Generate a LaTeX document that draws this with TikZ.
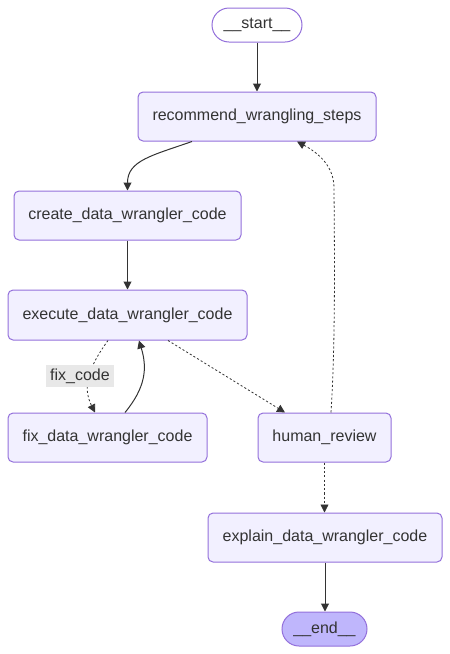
\documentclass[tikz,border=0pt]{standalone}
\usepackage{fontspec}
\setmainfont{Liberation Sans}
\usetikzlibrary{arrows.meta,calc}
\definecolor{nodefill}{HTML}{F2F0FF}
\definecolor{nodedraw}{HTML}{9370DB}
\definecolor{endfill}{HTML}{BFB6FC}
\definecolor{txt}{HTML}{333333}
\definecolor{lblbg}{HTML}{E8E8E8}
\tikzset{
  box/.style={draw=nodedraw, fill=nodefill, line width=0.75pt, rounded corners=3.75pt,
    inner sep=0pt, minimum height=36.75pt, text=txt, font=\fontsize{12}{14}\selectfont},
  pill/.style={draw=nodedraw, line width=0.75pt, rounded corners=12.75pt,
    inner sep=0pt, minimum height=25.5pt, text=txt, font=\fontsize{12}{14}\selectfont},
  edge/.style={draw=txt, line width=0.75pt, -{Triangle[length=6pt,width=6pt]}},
  dotedge/.style={edge, line width=0.6pt, dash pattern=on 1.6pt off 1.6pt},
  lbl/.style={fill=lblbg, inner xsep=3pt, inner ysep=2.5pt, text=txt, font=\fontsize{12}{14}\selectfont}
}
\begin{document}
\begin{tikzpicture}[x=0.75pt,y=-0.75pt]
\useasboundingbox (0,0) rectangle (450,654);
\node[pill, fill=white, minimum width=67.5pt] (start) at (257,25) {\_\_start\_\_};
\node[box, minimum width=178.5pt] (rec) at (257,116.5) {recommend\_wrangling\_steps};
\node[box, minimum width=170.25pt] (create) at (127.5,215.5) {create\_data\_wrangler\_code};
\node[box, minimum width=179.25pt, minimum height=37.5pt] (exec) at (127.5,315) {execute\_data\_wrangler\_code};
\node[box, minimum width=149.25pt] (fix) at (107.5,437.5) {fix\_data\_wrangler\_code};
\node[box, minimum width=99.75pt] (human) at (324.5,437.5) {human\_review};
\node[box, minimum width=175.5pt] (explain) at (325,537.5) {explain\_data\_wrangler\_code};
\node[pill, fill=endfill, minimum width=63.75pt] (end) at (324.5,629) {\_\_end\_\_};

\draw[edge] (start) -- (rec);
\draw[edge] ($(rec.south)+(-65,0)$) .. controls ($(rec.south)+(-105,14)$) and ($(create.north)+(0,-30)$) .. (create.north);
\draw[edge] (create) -- (exec);
\draw[dotedge] ($(exec.south)+(-19.5,0)$) .. controls ($(exec.south)+(-40,28)$) and ($(fix.north)+(-25,-25)$) .. ($(fix.north)+(-12.5,0)$);
\draw[edge] ($(fix.north)+(17.5,0)$) .. controls ($(fix.north)+(38,-25)$) and ($(exec.south)+(20,28)$) .. ($(exec.south)+(11.5,0)$);
\node[lbl] (fixlbl) at (80,376) {fix\_code};
\draw[dotedge] ($(exec.south)+(40.5,0)$) -- ($(human.north)+(-39.5,0)$);
\draw[dotedge] ($(human.north)+(6.5,0)$) .. controls ($(human.north)+(11,-70)$) and ($(human.north)+(10,-160)$) .. ($(human.north)+(9.5,-225)$) .. controls ($(human.north)+(9.5,-250)$) and ($(rec.south)+(55,8)$) .. ($(rec.south)+(40,0)$);
\draw[dotedge] (human) -- (human|-explain.north);
\draw[edge] (explain) -- (explain|-end.north);
\end{tikzpicture}
\end{document}
